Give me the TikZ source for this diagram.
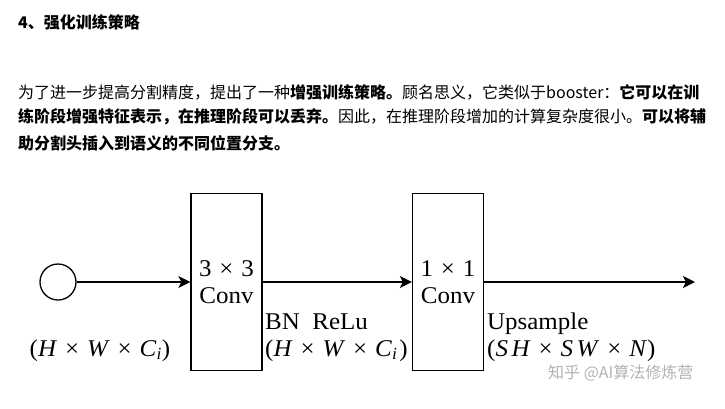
\documentclass[tikz,border=0pt]{standalone}
\usepackage{fontspec}
\setmainfont[FakeStretch=1.04]{Liberation Serif}
\newfontfamily\cjk{Noto Sans CJK SC}
\usetikzlibrary{arrows.meta}
\newcommand{\mul}{\kern0.33em×\kern0.33em}
\tikzset{
	>={Stealth[length=12pt,width=12pt,inset=3pt]},
	convbox/.style={draw, line width=1.3pt, minimum width=71pt, minimum height=177pt, inner sep=0pt, align=center, font=\fontsize{24}{27}\selectfont},
	lbl/.style={inner sep=0pt, font=\fontsize{24}{27}\selectfont},
	txt/.style={inner sep=0pt, anchor=west, font=\cjk\fontsize{16}{16}\selectfont},
}
\begin{document}
\begin{tikzpicture}[x=1pt,y=-1pt]
	\useasboundingbox (0,0) rectangle (725,408);

	% heading and text
	\node[txt, font=\cjk\bfseries\fontsize{16}{16}\selectfont] (title) at (18,22) {4、强化训练策略};
	\node[txt] (line1) at (18,92) {为了进一步提高分割精度，提出了一种{\bfseries 增强训练策略。}顾名思义，它类似于booster：{\bfseries 它可以在训}};
	\node[txt] (line2) at (18,117) {{\bfseries 练阶段增强特征表示，在推理阶段可以丢弃。}因此，在推理阶段增加的计算复杂度很小。{\bfseries 可以将辅}};
	\node[txt] (line3) at (18,143) {\bfseries 助分割头插入到语义的不同位置分支。};

	% blocks
	\node[draw, circle, line width=1.3pt, minimum size=36pt, inner sep=0pt] (in) at (58,282) {};
	\node[convbox] (conv3) at (226.5,282) {3\mul 3\\Conv};
	\node[convbox] (conv1) at (448,282) {1\mul 1\\Conv};
	\coordinate (out) at (695,282);

	% arrows
	\draw[->, line width=1.8pt] (in) -- (conv3);
	\draw[->, line width=1.8pt] (conv3) -- (conv1);
	\draw[->, line width=1.8pt] (conv1) -- (out);

	% labels
	\node[lbl, anchor=base] (insize) at (100,356) {(\textit{H}\mul\textit{W}\mul\textit{C}\textsubscript{\textit{i}})};
	\node[lbl, anchor=base west] (bn) at (265,329) {BN\ \ ReLu};
	\node[lbl, anchor=base west] (midsize) at (265,356) {(\textit{H}\mul\textit{W}\mul\textit{C}\textsubscript{\textit{i}}\kern0.08em)};
	\node[lbl, anchor=base west] (up) at (487,329) {Upsample};
	\node[lbl, anchor=base west] (outsize) at (487,356) {(\textit{S\kern0.15em H}\mul\textit{S\kern0.15em W}\mul\textit{N\/})};

	% watermark
	\node[inner sep=0pt, anchor=west, text=black!30, font=\cjk\fontsize{16}{16}\selectfont] (mark) at (548,373) {知乎 @AI算法修炼营};

\end{tikzpicture}
\end{document}
